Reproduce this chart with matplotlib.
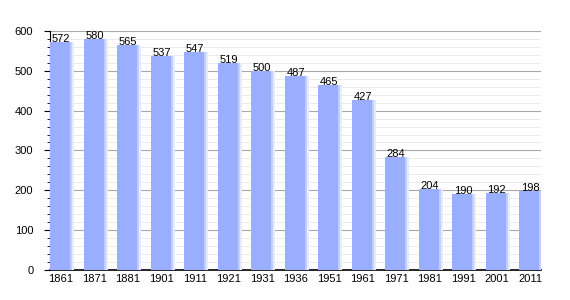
import matplotlib.pyplot as plt
import numpy as np

# population by census year
years = ["1861", "1871", "1881", "1901", "1911", "1921", "1931", "1936",
         "1951", "1961", "1971", "1981", "1991", "2001", "2011"]
population = [572, 580, 565, 537, 547, 519, 500, 487, 465, 427, 284, 204, 190, 192, 198]

plt.rcParams['font.family'] = ['Liberation Sans', 'DejaVu Sans']

fig = plt.figure(figsize=(5.7, 3), dpi=100)
ax = fig.add_axes([0.0877, 0.1, 0.862, 0.797])

x = np.arange(len(years))
w = 0.66
ax.bar(x, population, width=w, color="#9AAEFF", zorder=3)
# soft light edge on the right of each bar
ax.bar(x + w / 2 - 0.03, population, width=0.06, color="#C2CEFF", zorder=3)
ax.bar(x + w / 2 + 0.03, population, width=0.06, color="#E6EBFF", zorder=3)

for xi, v in zip(x, population):
    ax.text(xi, v - 5, str(v), ha="center", va="bottom", fontsize=8, zorder=4)

ax.set_xlim(-w / 2, len(years) - 1 + w / 2)
ax.set_ylim(0, 600)
ax.set_xticks(x)
ax.set_xticklabels(years, fontsize=8)
ax.set_yticks(range(0, 601, 100))
ax.set_yticks(range(0, 601, 20), minor=True)
ax.tick_params(axis="y", labelsize=8, length=4, pad=8)
ax.tick_params(axis="y", which="minor", length=2)
ax.tick_params(axis="x", length=0, pad=3)

ax.grid(axis="y", which="major", color="#A8A8A8", linewidth=0.8, zorder=1)
ax.grid(axis="y", which="minor", color="#EAEAEA", linewidth=0.7, zorder=0)
ax.spines["top"].set_visible(False)
ax.spines["right"].set_visible(False)
ax.spines["bottom"].set_linewidth(1.2)

fig.savefig("out.png", dpi=100)
